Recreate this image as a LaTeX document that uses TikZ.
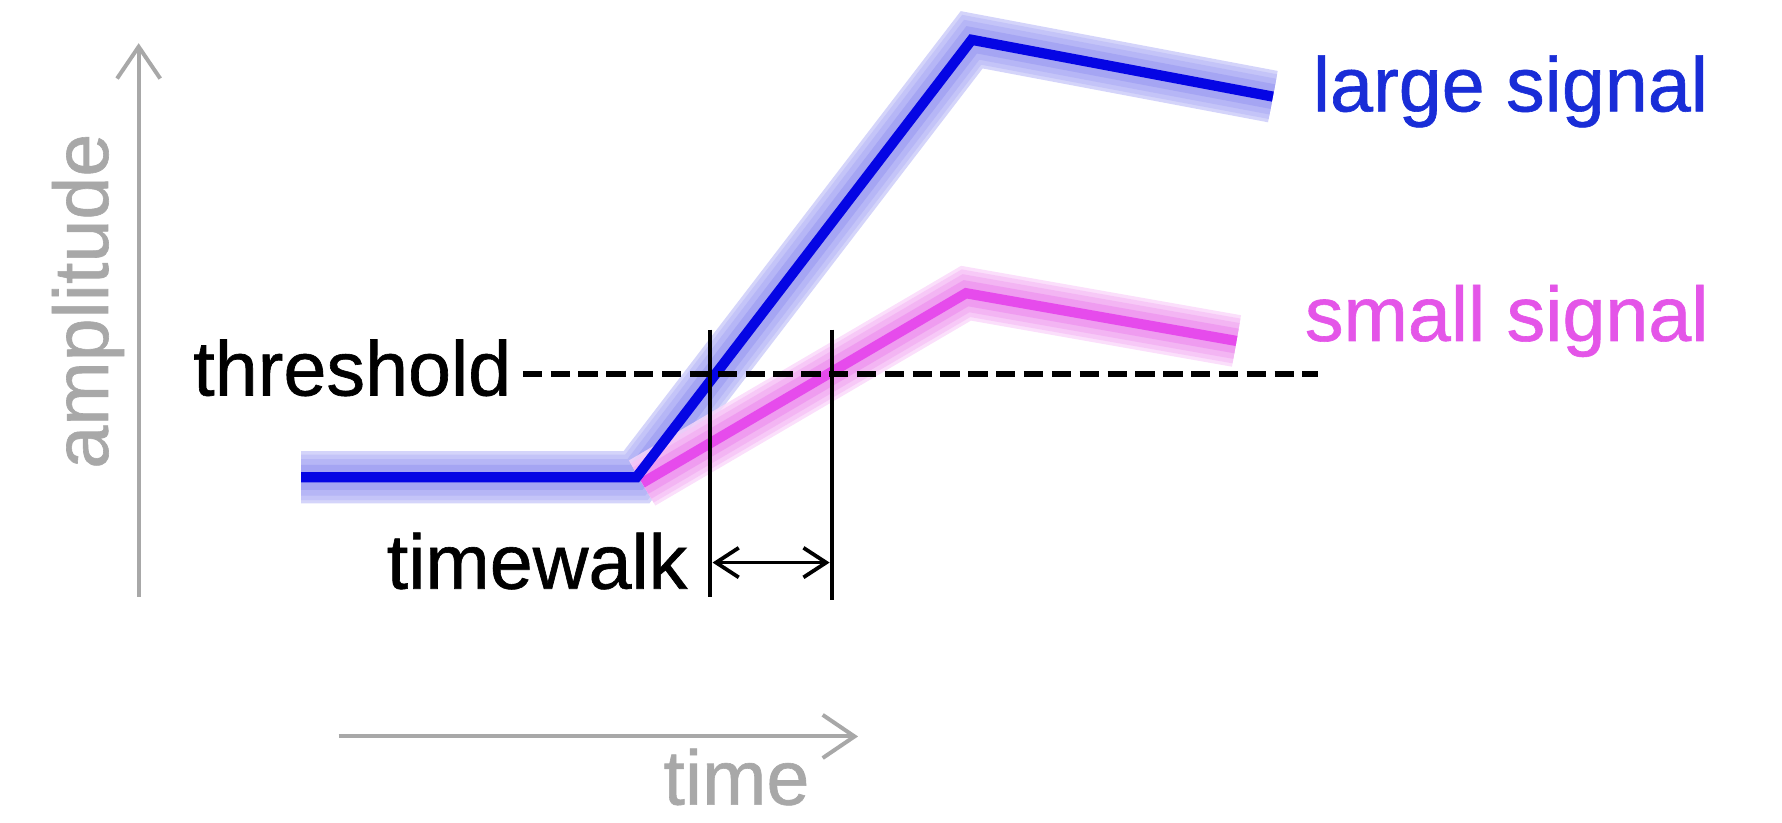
\documentclass[tikz,border=0pt]{standalone}
\usepackage{fontspec}
\setmainfont[FakeBold=0.8]{Liberation Sans}
\usetikzlibrary{arrows.meta}
\definecolor{axisgray}{RGB}{168,168,168}
\definecolor{bigcore}{RGB}{5,5,228}
\definecolor{bighaloA}{RGB}{212,212,250}
\definecolor{bighaloB}{RGB}{196,196,248}
\definecolor{bighaloC}{RGB}{182,182,246}
\definecolor{bighaloD}{RGB}{165,165,243}
\definecolor{bigtext}{RGB}{25,45,215}
\definecolor{smallcore}{RGB}{230,75,236}
\definecolor{smallhaloA}{RGB}{250,215,250}
\definecolor{smallhaloB}{RGB}{247,196,247}
\definecolor{smallhaloC}{RGB}{243,176,243}
\definecolor{smallhaloD}{RGB}{238,150,240}
\definecolor{smalltext}{RGB}{228,85,232}
\begin{document}
\begin{tikzpicture}[x=1pt,y=-1pt,
  lbl/.style={inner sep=0pt,font=\fontsize{68}{80}\selectfont},
  axis/.style={draw=axisgray,line width=3.5pt,-{Straight Barb[length=28pt,width=38pt,line width=3.5pt]}},
  halo/.style={line width=#1,line join=miter,line cap=butt},
  core/.style={line width=9pt,line join=miter,line cap=butt},
  marker/.style={draw=black,line width=3.3pt},
  walk/.style={draw=black,line width=3.3pt,{Straight Barb[length=20pt,width=26pt,line width=3.3pt]}-{Straight Barb[length=20pt,width=26pt,line width=3.3pt]}}]
  \useasboundingbox (0,0) rectangle (1568,724);

  % axes
  \coordinate (ybot) at (122,525);
  \coordinate (ytop) at (122,38);
  \coordinate (xleft) at (298,648);
  \coordinate (xright) at (755,648);
  \draw[axis] (ybot) -- (ytop);
  \draw[axis] (xleft) -- (xright);
  \node[lbl,text=axisgray,rotate=90,anchor=base] (amp) at (95,265) {amplitude};
  \node[lbl,text=axisgray,anchor=base] (time) at (648,708) {time};

  % signal corner points
  \coordinate (b0) at (265,420);
  \coordinate (b1) at (560,420);
  \coordinate (b2) at (855,35);
  \coordinate (b3) at (1120,85);
  \coordinate (s0) at (565,425);
  \coordinate (s1) at (850,258);
  \coordinate (s2) at (1088,300);

  % soft halos, built from layers of decreasing width
  \foreach \w/\c in {46pt/bighaloA,40pt/bighaloB,32pt/bighaloC,22pt/bighaloD}
    \draw[halo=\w,\c] (b0) -- (b1) -- (b2) -- (b3);
  \foreach \w/\c in {46pt/smallhaloA,40pt/smallhaloB,32pt/smallhaloC,22pt/smallhaloD}
    \draw[halo=\w,\c,opacity=0.8] (s0) -- (s1) -- (s2);
  % signal cores
  \draw[core,smallcore] (s0) -- (s1) -- (s2);
  \draw[core,bigcore] (b0) -- (b1) -- (b2) -- (b3);

  % threshold
  \node[lbl,anchor=base east] (thr) at (450,348) {threshold};
  \coordinate (thrend) at (1160,329);
  \draw[black,line width=5.5pt,dash pattern=on 17pt off 7.5pt] (thr.east |- thrend) ++(10,0) coordinate (thrstart) -- (thrend);

  % crossing markers and timewalk
  \coordinate (m1t) at (625,290);
  \coordinate (m1b) at (625,525);
  \coordinate (m2t) at (732,290);
  \coordinate (m2b) at (732,528);
  \draw[marker] (m1t) -- (m1b);
  \draw[marker] (m2t) -- (m2b);
  \coordinate (w1) at (627,495);
  \coordinate (w2) at (730,495);
  \draw[walk] (w1) -- (w2);
  \node[lbl,anchor=base east] (tw) at (605,518) {timewalk};

  % legend labels
  \node[lbl,text=bigtext,anchor=base west] (large) at (1155,98) {large signal};
  \node[lbl,text=smalltext,anchor=base west] (small) at (1148,300) {small signal};
\end{tikzpicture}
\end{document}
